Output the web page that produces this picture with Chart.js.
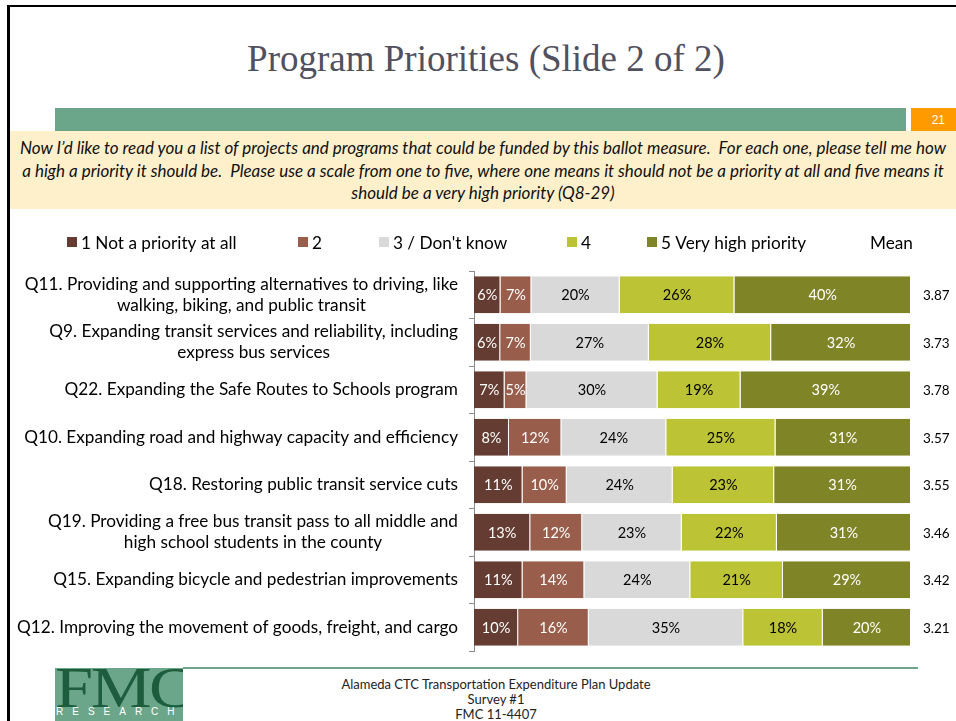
<!DOCTYPE html>
<html>
<head>
<meta charset="utf-8">
<script src="https://cdn.jsdelivr.net/npm/chart.js@4.4.0/dist/chart.umd.min.js"></script>
<style>
  html, body { margin: 0; padding: 0; background: #fff; }
  body { width: 956px; height: 721px; position: relative; overflow: hidden; font-family: Lato, sans-serif; }
  .frame-top { position: absolute; left: 7px; top: 5px; width: 949px; height: 2px; background: #000; }
  .frame-left { position: absolute; left: 7px; top: 5px; width: 3px; height: 716px; background: #000; }
  .title { position: absolute; left: 0; width: 972px; top: 37px; text-align: center;
           font-family: "Liberation Serif", serif; font-size: 37px; color: #50505f; }
  .greenbar { position: absolute; left: 55px; top: 108px; width: 851px; height: 23px; background: #6ca68a; }
  .slide-no { position: absolute; left: 911px; top: 108px; width: 45px; height: 23px; background: #ff9a00;
              color: #fff; font-family: Arial, sans-serif; font-size: 12px; line-height: 25px; text-align: right; }
  .slide-no span { padding-right: 11px; }
  .question { position: absolute; left: 10px; top: 131px; width: 946px; height: 72px; padding-top: 6px; background: #fff0cc;
              font-style: italic; font-size: 17px; line-height: 22.5px; text-align: center; color: #111; }
  .question div { white-space: nowrap; }
  .footline { position: absolute; left: 183px; top: 667px; width: 735px; height: 2px; background: #6ca68a; }
  .logo { position: absolute; left: 55px; top: 668px; width: 128px; height: 53px; background: #6ca68a; overflow: hidden; }
  .logo .fmc { position: absolute; left: 0; top: -13px; font-family: "Liberation Serif", serif; font-size: 57px;
               color: #1d5c3c; letter-spacing: -2px; transform: scaleX(1.2); transform-origin: left top; }
  .logo .res { position: absolute; left: 1px; top: 38px; font-family: Arial, sans-serif; font-size: 10px;
               color: #fff; letter-spacing: 9px; }
  .foot { position: absolute; left: 246px; width: 500px; top: 677px; text-align: center; font-size: 13px; line-height: 15px; color: #222; }
  #wrap { position: absolute; left: 0; top: 0; width: 956px; height: 721px; z-index: 2; }
</style>
</head>
<body>
<div class="frame-top"></div>
<div class="frame-left"></div>
<div class="title">Program Priorities (Slide 2 of 2)</div>
<div class="greenbar"></div>
<div class="slide-no"><span>21</span></div>
<div class="question">
  <div>Now I’d like to read you a list of projects and programs that could be funded by this ballot measure.&nbsp; For each one, please tell me how</div>
  <div>a high a priority it should be.&nbsp; Please use a scale from one to five, where one means it should not be a priority at all and five means it</div>
  <div>should be a very high priority (Q8-29)</div>
</div>
<div class="footline"></div>
<div class="logo"><div class="fmc">FMC</div><div class="res">RESEARCH</div></div>
<div class="foot">Alameda CTC Transportation Expenditure Plan Update<br>Survey #1<br>FMC 11-4407</div>
<div id="wrap"><canvas id="chart" width="956" height="721"></canvas></div>

<script>
// Survey items (top to bottom)
const categories = [
  ['Q11. Providing and supporting alternatives to driving, like', 'walking, biking, and public transit'],
  ['Q9. Expanding transit services and reliability, including', 'express bus services'],
  ['Q22. Expanding the Safe Routes to Schools program'],
  ['Q10. Expanding road and highway capacity and efficiency'],
  ['Q18. Restoring public transit service cuts'],
  ['Q19. Providing a free bus transit pass to all middle and', 'high school students in the county'],
  ['Q15. Expanding bicycle and pedestrian improvements'],
  ['Q12. Improving the movement of goods, freight, and cargo']
];

// Percent of respondents per rating
const notPriority = [6, 6, 7, 8, 11, 13, 11, 10];
const ratingTwo = [7, 7, 5, 12, 10, 12, 14, 16];
const dontKnow = [20, 27, 30, 24, 24, 23, 24, 35];
const ratingFour = [26, 28, 19, 25, 23, 22, 21, 18];
const veryHigh = [40, 32, 39, 31, 31, 31, 29, 20];

const means = ['3.87', '3.73', '3.78', '3.57', '3.55', '3.46', '3.42', '3.21'];

const seriesLabels = ['1 Not a priority at all', '2', '3 / Don\'t know', '4', '5 Very high priority'];
const seriesValues = [notPriority, ratingTwo, dontKnow, ratingFour, veryHigh];

// Colors and label colors for each rating
const colors = ['#643c31', '#985d4b', '#d9d9d9', '#bcc435', '#7f8427'];
const labelColors = ['#fff', '#fff', '#000', '#000', '#fff'];

// each bar fills the full width, like the original 100% stacked chart
const rowTotals = categories.map((c, i) => seriesValues.reduce((s, arr) => s + arr[i], 0));

const datasets = seriesValues.map((vals, k) => ({
    label: seriesLabels[k],
    data: vals.map((v, i) => v / rowTotals[i] * 100),
    raw: vals,
    backgroundColor: colors[k],
    borderColor: 'rgba(255,255,255,0.45)',
    borderWidth: { right: 1, left: 0, top: 0, bottom: 0 },
    borderSkipped: false,
    barPercentage: 0.78,
    categoryPercentage: 1
}));

const FONT = 'Lato, "Open Sans", sans-serif';

// Draw category labels, segment values, means and legend
const slidePlugin = {
    id: 'slide',
    afterDatasetsDraw(chart) {
        const ctx = chart.ctx;
        const yScale = chart.scales.y;
        ctx.save();

        // segment labels
        ctx.font = '14.5px ' + FONT;
        ctx.textAlign = 'center';
        ctx.textBaseline = 'middle';
        chart.data.datasets.forEach((ds, k) => {
            const meta = chart.getDatasetMeta(k);
            meta.data.forEach((bar, i) => {
                ctx.fillStyle = labelColors[k];
                ctx.fillText(ds.raw[i] + '%', (bar.x + bar.base) / 2, bar.y + 1);
            });
        });

        // category labels: right aligned, lines centred on each other
        ctx.font = '17.2px ' + FONT;
        ctx.fillStyle = '#000';
        const right = chart.chartArea.left - 16;
        categories.forEach((lines, i) => {
            const y = yScale.getPixelForValue(i);
            const widest = Math.max(...lines.map(l => ctx.measureText(l).width));
            const cx = right - widest / 2;
            const lh = 21;
            lines.forEach((l, j) => {
                ctx.fillText(l, cx, y + (j - (lines.length - 1) / 2) * lh);
            });
        });

        // mean column
        ctx.font = '13.5px ' + FONT;
        ctx.textAlign = 'left';
        means.forEach((m, i) => {
            ctx.fillText(m, chart.chartArea.right + 12, yScale.getPixelForValue(i) + 1);
        });

        // legend
        const legendX = [67, 298, 379, 567, 647];
        const legendY = 242;
        ctx.font = '17.2px ' + FONT;
        seriesLabels.forEach((t, k) => {
            ctx.fillStyle = colors[k];
            ctx.fillRect(legendX[k], legendY - 5, 10, 10);
            ctx.fillStyle = '#000';
            ctx.fillText(t, legendX[k] + 14, legendY + 1);
        });
        ctx.fillText('Mean', 870, legendY + 1);

        ctx.restore();
    }
};

new Chart(document.getElementById('chart'), {
    type: 'bar',
    data: {
        labels: categories.map(c => c.join(' ')),
        datasets: datasets
    },
    options: {
        indexAxis: 'y',
        responsive: false,
        animation: false,
        layout: {
            padding: { left: 0, top: 271, right: 45, bottom: 70 }
        },
        scales: {
            x: {
                stacked: true,
                display: false,
                min: 0,
                max: 100
            },
            y: {
                stacked: true,
                afterFit: function(scale) {
                    scale.width = 474;
                },
                grid: {
                    drawOnChartArea: false,
                    drawTicks: true,
                    tickLength: 5,
                    color: '#8a8a8a',
                    offset: true
                },
                border: { display: true, color: '#8a8a8a' },
                ticks: { display: false }
            }
        },
        plugins: {
            legend: { display: false },
            tooltip: { enabled: false }
        }
    },
    plugins: [slidePlugin]
});
</script>
</body>
</html>
